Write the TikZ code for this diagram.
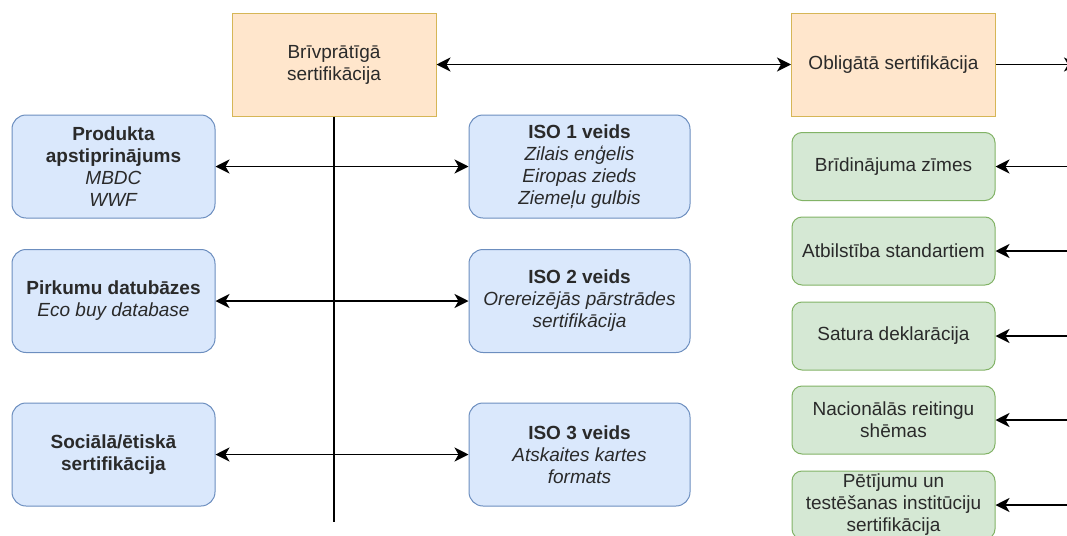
\documentclass[tikz,border=0pt]{standalone}
\usepackage{fontspec}
\setmainfont{Liberation Sans}
\usepackage{xcolor}
\usepackage{tikz}
\usetikzlibrary{arrows.meta,positioning}
\definecolor{orangefill}{HTML}{FFE6CC}
\definecolor{orangeline}{HTML}{D6B656}
\definecolor{bluefill}{HTML}{DAE8FC}
\definecolor{blueline}{HTML}{6C8EBF}
\definecolor{greenfill}{HTML}{D5E8D4}
\definecolor{greenline}{HTML}{82B366}
\definecolor{textgray}{HTML}{2A2A2A}
\tikzstyle{box} = [draw, align=center, text=textgray, inner sep=1pt, line width=0.5pt, font=\fontsize{9.5}{11}\selectfont]
\tikzstyle{orangebox} = [box, fill=orangefill, draw=orangeline, minimum width=102pt, minimum height=51.5pt]
\tikzstyle{bluebox} = [box, rounded corners=7pt, fill=bluefill, draw=blueline, minimum width=101.5pt, minimum height=51.5pt]
\tikzstyle{isobox} = [bluebox, minimum width=110.5pt]
\tikzstyle{greenbox} = [box, rounded corners=5pt, fill=greenfill, draw=greenline, minimum width=101.5pt, minimum height=34pt]
\tikzstyle{arrow} = [line width=0.8pt, -{Stealth[length=7pt,width=7pt,inset=2pt]}]
\tikzstyle{dblarrow} = [line width=0.8pt, {Stealth[length=7pt,width=7pt,inset=2pt]}-{Stealth[length=7pt,width=7pt,inset=2pt]}]

\begin{document}
\begin{tikzpicture}[x=0.5pt, y=-0.5pt]
    \clip (0,0) rectangle (1067,536);

    % top row
    \node[orangebox] (vol) at (334,64.5) {Brīvprātīgā\\sertifikācija};
    \node[orangebox] (mand) at (893.5,64.5) {Obligātā sertifikācija};

    % left column
    \node[bluebox] (prod) at (113.5,166.5) {\textbf{Produkta}\\\textbf{apstiprinājums}\\\textit{MBDC}\\\textit{WWF}};
    \node[bluebox] (purch) at (113.5,301) {\textbf{Pirkumu datubāzes}\\\textit{Eco buy database}};
    \node[bluebox] (social) at (113.5,454.5) {\textbf{Sociālā/ētiskā}\\\textbf{sertifikācija}};

    % ISO column
    \node[isobox] (iso1) at (579.5,166.5) {\textbf{ISO 1 veids}\\\textit{Zilais enģelis}\\\textit{Eiropas zieds}\\\textit{Ziemeļu gulbis}};
    \node[isobox] (iso2) at (579.5,301) {\textbf{ISO 2 veids}\\\textit{Orereizējās pārstrādes}\\\textit{sertifikācija}};
    \node[isobox] (iso3) at (579.5,454.5) {\textbf{ISO 3 veids}\\\textit{Atskaites kartes}\\\textit{formats}};

    % mandatory column
    \node[greenbox] (warn) at (893.5,166.5) {Brīdinājuma zīmes};
    \node[greenbox] (std) at (893.5,251) {Atbilstība standartiem};
    \node[greenbox] (decl) at (893.5,336) {Satura deklarācija};
    \node[greenbox] (rate) at (893.5,420) {Nacionālās reitingu\\shēmas};
    \node[greenbox] (lab) at (893.5,505) {Pētījumu un\\testēšanas institūciju\\sertifikācija};

    % free ends
    \coordinate (vend) at (334,522);
    \coordinate (out) at (1078,64.5);
    \coordinate (in1) at (1075,166.5);
    \coordinate (in2) at (1075,251);
    \coordinate (in3) at (1075,336);
    \coordinate (in4) at (1075,420);
    \coordinate (in5) at (1075,505);

    \draw[line width=0.8pt] (vol.south) -- (vend);
    \draw[dblarrow] (vol.east) -- (mand.west);
    \draw[arrow] (mand.east) -- (out);

    \draw[dblarrow] (prod.east) -- (iso1.west);
    \draw[dblarrow] (purch.east) -- (iso2.west);
    \draw[dblarrow] (social.east) -- (iso3.west);

    \draw[arrow] (in1) -- (warn.east);
    \draw[arrow] (in2) -- (std.east);
    \draw[arrow] (in3) -- (decl.east);
    \draw[arrow] (in4) -- (rate.east);
    \draw[arrow] (in5) -- (lab.east);
\end{tikzpicture}
\end{document}
